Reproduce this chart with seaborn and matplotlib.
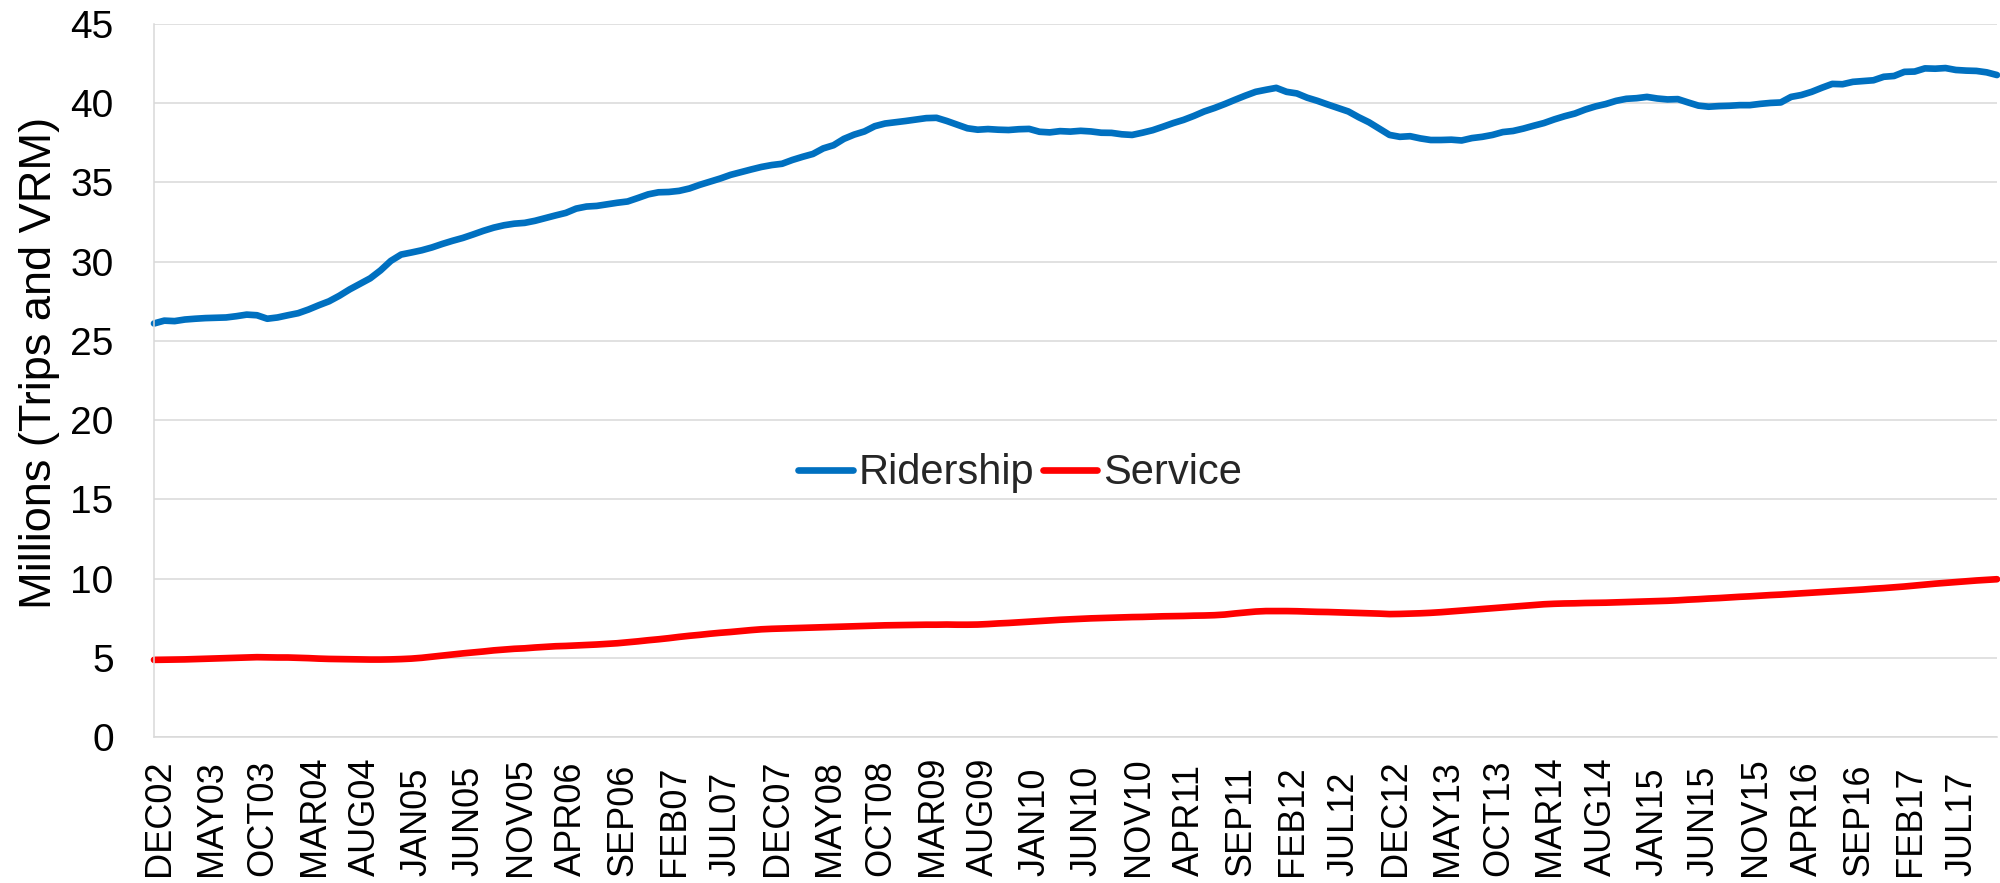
import matplotlib
matplotlib.use("Agg")
import matplotlib.pyplot as plt
import matplotlib.transforms as mtransforms
import numpy as np
import pandas as pd
import seaborn as sns

# Monthly series, Dec 2002 through Nov 2017 (millions)
months = pd.period_range("2002-12", periods=180, freq="M").strftime("%b%y").str.upper().tolist()

ridership = [
    26.10,
    26.28, 26.25, 26.35, 26.40, 26.44, 26.46, 26.48, 26.56, 26.66, 26.62, 26.40, 26.48,
    26.62, 26.75, 26.98, 27.25, 27.50, 27.85, 28.25, 28.60, 28.95, 29.45, 30.05, 30.45,
    30.58, 30.72, 30.90, 31.12, 31.32, 31.50, 31.72, 31.95, 32.15, 32.30, 32.40, 32.45,
    32.58, 32.75, 32.92, 33.08, 33.35, 33.48, 33.52, 33.62, 33.72, 33.80, 34.02, 34.25,
    34.38, 34.40, 34.47, 34.62, 34.85, 35.05, 35.25, 35.48, 35.65, 35.82, 35.98, 36.10,
    36.18, 36.42, 36.62, 36.80, 37.15, 37.35, 37.75, 38.02, 38.22, 38.55, 38.72, 38.80,
    38.88, 38.97, 39.06, 39.08, 38.88, 38.65, 38.42, 38.33, 38.37, 38.33, 38.31, 38.36,
    38.38, 38.20, 38.16, 38.24, 38.21, 38.26, 38.22, 38.14, 38.13, 38.04, 38.00, 38.14,
    38.30, 38.52, 38.75, 38.95, 39.20, 39.48, 39.70, 39.95, 40.22, 40.48, 40.72, 40.85,
    40.97, 40.72, 40.62, 40.35, 40.15, 39.92, 39.70, 39.48, 39.12, 38.80, 38.40, 38.00,
    37.88, 37.92, 37.78, 37.68, 37.68, 37.70, 37.65, 37.80, 37.88, 38.00, 38.18, 38.25,
    38.40, 38.58, 38.75, 38.98, 39.18, 39.35, 39.60, 39.80, 39.95, 40.15, 40.28, 40.32,
    40.40, 40.30, 40.24, 40.26, 40.05, 39.85, 39.78, 39.82, 39.84, 39.88, 39.88, 39.96,
    40.02, 40.05, 40.40, 40.52, 40.72, 40.98, 41.22, 41.20, 41.35, 41.40, 41.45, 41.67,
    41.72, 41.98, 42.00, 42.20, 42.18, 42.22, 42.10, 42.06, 42.04, 41.95, 41.78,
]

service = [
    4.87,
    4.88, 4.89, 4.90, 4.92, 4.94, 4.96, 4.98, 5.00, 5.02, 5.04, 5.03, 5.02,
    5.02, 5.00, 4.98, 4.95, 4.93, 4.92, 4.91, 4.90, 4.89, 4.89, 4.90, 4.92,
    4.95, 5.00, 5.07, 5.14, 5.21, 5.28, 5.34, 5.40, 5.47, 5.52, 5.57, 5.60,
    5.65, 5.69, 5.73, 5.75, 5.78, 5.81, 5.84, 5.88, 5.92, 5.98, 6.04, 6.11,
    6.17, 6.24, 6.32, 6.39, 6.45, 6.52, 6.58, 6.63, 6.69, 6.75, 6.80, 6.83,
    6.85, 6.87, 6.89, 6.91, 6.93, 6.95, 6.97, 6.99, 7.01, 7.03, 7.05, 7.06,
    7.07, 7.08, 7.09, 7.09, 7.10, 7.09, 7.09, 7.10, 7.13, 7.17, 7.20, 7.24,
    7.28, 7.32, 7.36, 7.40, 7.43, 7.46, 7.49, 7.51, 7.53, 7.55, 7.57, 7.58,
    7.60, 7.62, 7.63, 7.64, 7.66, 7.67, 7.69, 7.73, 7.80, 7.86, 7.92, 7.95,
    7.95, 7.95, 7.94, 7.92, 7.90, 7.89, 7.87, 7.85, 7.83, 7.81, 7.79, 7.76,
    7.77, 7.79, 7.81, 7.84, 7.88, 7.93, 7.98, 8.03, 8.08, 8.13, 8.18, 8.23,
    8.28, 8.33, 8.38, 8.41, 8.43, 8.44, 8.46, 8.47, 8.48, 8.50, 8.52, 8.54,
    8.56, 8.58, 8.60, 8.63, 8.67, 8.70, 8.74, 8.77, 8.81, 8.85, 8.88, 8.92,
    8.96, 8.99, 9.03, 9.07, 9.11, 9.15, 9.19, 9.23, 9.27, 9.31, 9.36, 9.40,
    9.45, 9.50, 9.56, 9.62, 9.68, 9.73, 9.78, 9.83, 9.88, 9.92, 9.96,
]

series_names = ["Ridership", "Service"]
series_colors = {"Ridership": "#0070C0", "Service": "#FF0000"}
y_ticks = [0, 5, 10, 15, 20, 25, 30, 35, 40, 45]
tick_every = 5

df = pd.DataFrame({
    "Month": months * 2,
    "Value": ridership + service,
    "Series": ["Ridership"] * len(ridership) + ["Service"] * len(service),
})

sns.set_theme(style="white")
plt.rcParams["font.family"] = ["Liberation Sans", "DejaVu Sans"]

fig = plt.figure(figsize=(20, 8.83), dpi=100)
ax = fig.add_axes([0.077, 0.1653, 0.9215, 0.8075])

LW = 4.8
sns.lineplot(data=df, x="Month", y="Value", hue="Series", hue_order=series_names,
             palette=series_colors, linewidth=LW, sort=False, ax=ax,
             solid_capstyle="round", solid_joinstyle="round")
for ln in ax.lines:
    ln.set_clip_on(False)

ax.set_xlim(0, len(months) - 1)
ax.set_ylim(0, 45)
ax.set_yticks(y_ticks)
ax.set_yticklabels([str(v) for v in y_ticks])
tick_pos = list(range(0, len(months), tick_every))
ax.set_xticks(tick_pos)
ax.set_xticklabels([months[i] for i in tick_pos], rotation=90)

ax.grid(axis="y", color="#D9D9D9", linewidth=1.1)
ax.grid(axis="x", visible=False)
ax.set_axisbelow(True)
for side in ["top", "right"]:
    ax.spines[side].set_visible(False)
for side in ["left", "bottom"]:
    ax.spines[side].set_visible(True)
    ax.spines[side].set_color("#D9D9D9")
    ax.spines[side].set_linewidth(1.1)

ax.tick_params(axis="y", length=0, pad=29, labelsize=28, labelcolor="black")
# month labels start at a common baseline below the axis and read upward
ax.tick_params(axis="x", length=0, pad=100, labelsize=26, labelcolor="black")
shift = mtransforms.ScaledTranslation(6 / 100, 0, fig.dpi_scale_trans)
for lbl in ax.get_xticklabels():
    lbl.set_rotation_mode("anchor")
    lbl.set_horizontalalignment("left")
    lbl.set_verticalalignment("center")
    lbl.set_transform(lbl.get_transform() + shift)

ax.set_xlabel("")
ax.set_ylabel("Millions (Trips and VRM)", fontsize=32.5, color="black")
ax.yaxis.set_label_coords(-0.051, 0.525)

leg = ax.legend(loc="center", bbox_to_anchor=(0.47, 0.370), ncol=2, frameon=False,
                fontsize=30, handlelength=1.3, handletextpad=0.15, columnspacing=0.2)
for h in leg.get_lines():
    h.set_linewidth(LW)
    h.set_solid_capstyle("round")

fig.savefig("out.png", dpi=100, facecolor="white")
